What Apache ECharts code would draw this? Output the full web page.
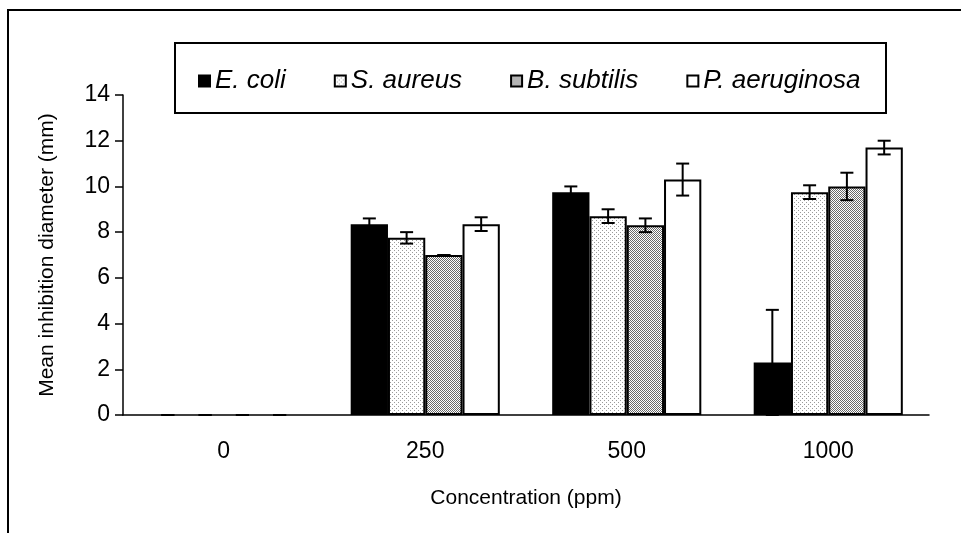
<!DOCTYPE html>
<html>
<head>
<meta charset="utf-8">
<script src="https://cdn.jsdelivr.net/npm/echarts@6/dist/echarts.min.js"></script>
<style>
  html, body { margin: 0; padding: 0; background: #fff; }
  #chart { width: 961px; height: 533px; }
</style>
</head>
<body>
<div id="chart"></div>
<script>
// data
var categories = ['0', '250', '500', '1000'];
var seriesNames = ['E. coli', 'S. aureus', 'B. subtilis', 'P. aeruginosa'];
var ecoli = [0, 8.35, 9.75, 2.3];
var ecoliErr = [0, 0.25, 0.25, 2.3];
var saureus = [0, 7.75, 8.7, 9.75];
var saureusErr = [0, 0.25, 0.3, 0.3];
var bsubtilis = [0, 7.0, 8.3, 10.0];
var bsubtilisErr = [0, 0, 0.3, 0.6];
var paeruginosa = [0, 8.35, 10.3, 11.7];
var paeruginosaErr = [0, 0.3, 0.7, 0.3];
var yTicks = [0, 2, 4, 6, 8, 10, 12, 14];

var values = [ecoli, saureus, bsubtilis, paeruginosa];
var errors = [ecoliErr, saureusErr, bsubtilisErr, paeruginosaErr];

var FONT = '"Liberation Sans", Arial, sans-serif';
var CAT_GAP = 0.26;

// stipple fills
function makePattern(size, bg, dots, dotColor) {
  var c = document.createElement('canvas');
  c.width = size; c.height = size;
  var ctx = c.getContext('2d');
  ctx.fillStyle = bg;
  ctx.fillRect(0, 0, size, size);
  ctx.fillStyle = dotColor;
  dots.forEach(function (d) { ctx.fillRect(d[0], d[1], 1, 1); });
  return c;
}
var lightDots = makePattern(4, '#ffffff', [[0, 0], [2, 2]], '#9a9a9a');
var denseDots = makePattern(2, '#ffffff', [[0, 0], [1, 1]], '#6a6a6a');

var fills = [
  '#000000',
  { image: lightDots, repeat: 'repeat' },
  { image: denseDots, repeat: 'repeat' },
  '#ffffff'
];

var series = [];
seriesNames.forEach(function (name, i) {
  series.push({
    name: name,
    type: 'bar',
    // zero-height bars get no outline, only the error cap shows
    data: values[i].map(function (v) {
      return v === 0 ? { value: v, itemStyle: { borderWidth: 0 } } : v;
    }),
    barGap: '0%',
    barCategoryGap: (CAT_GAP * 100) + '%',
    itemStyle: { color: fills[i], borderColor: '#000', borderWidth: 2 },
    emphasis: { disabled: true },
    z: 2
  });
});

// error bars
seriesNames.forEach(function (name, i) {
  series.push({
    type: 'custom',
    name: name + ' err',
    z: 3,
    silent: true,
    data: values[i].map(function (v, k) { return [k, v, errors[i][k]]; }),
    encode: { x: 0, y: 1 },
    renderItem: function (params, api) {
      var err = api.value(2);
      var k = api.value(0), v = api.value(1);
      var band = api.size([1, 0])[0];
      var bw = band * (1 - CAT_GAP) / seriesNames.length;
      var off = (i - (seriesNames.length - 1) / 2) * bw;
      var hi = api.coord([k, v + err]);
      var lo = api.coord([k, v - err]);
      var x = hi[0] + off;
      var cap = 6.5;
      var st = { stroke: '#000', lineWidth: 2 };
      return {
        type: 'group',
        children: [
          { type: 'line', shape: { x1: x, y1: hi[1], x2: x, y2: lo[1] }, style: st },
          { type: 'line', shape: { x1: x - cap, y1: hi[1], x2: x + cap, y2: hi[1] }, style: st },
          { type: 'line', shape: { x1: x - cap, y1: lo[1], x2: x + cap, y2: lo[1] }, style: st }
        ]
      };
    }
  });
});

var chart = echarts.init(document.getElementById('chart'), null, { renderer: 'canvas' });
chart.setOption({
  animation: false,
  backgroundColor: '#fff',
  textStyle: { fontFamily: FONT, color: '#000' },
  grid: { left: 123, right: 32, top: 95, bottom: 118 },
  graphic: [
    { type: 'rect', shape: { x: 8, y: 10, width: 1000, height: 600 },
      style: { fill: 'none', stroke: '#000', lineWidth: 2 }, silent: true },
    { type: 'rect', shape: { x: 175, y: 43, width: 711, height: 70 },
      style: { fill: '#fff', stroke: '#000', lineWidth: 2 }, silent: true, z: -1 }
  ],
  legend: {
    data: seriesNames,
    left: 193, top: 63,
    itemWidth: 11, itemHeight: 11,
    itemGap: 48,
    icon: 'rect',
    textStyle: { fontFamily: FONT, fontSize: 26, fontStyle: 'italic', color: '#000' },
    selectedMode: false
  },
  xAxis: {
    type: 'category',
    data: categories,
    name: 'Concentration (ppm)',
    nameLocation: 'middle',
    nameGap: 73,
    nameTextStyle: { fontFamily: FONT, fontSize: 21, color: '#000' },
    axisLine: { lineStyle: { color: '#000', width: 1.5 } },
    axisTick: { length: 8, lineStyle: { color: '#000', width: 1.5 } },
    axisLabel: { fontFamily: FONT, fontSize: 23, color: '#000', margin: 25 }
  },
  yAxis: {
    type: 'value',
    min: yTicks[0], max: yTicks[yTicks.length - 1], interval: 2,
    name: 'Mean inhibition diameter (mm)',
    nameLocation: 'middle',
    nameGap: 65,
    nameTextStyle: { fontFamily: FONT, fontSize: 21, color: '#000' },
    axisLine: { show: true, lineStyle: { color: '#000', width: 1.5 } },
    axisTick: { show: true, length: 8, lineStyle: { color: '#000', width: 1.5 } },
    splitLine: { show: false },
    axisLabel: { fontFamily: FONT, fontSize: 23, color: '#000', margin: 13 }
  },
  series: series
});
</script>
</body>
</html>
